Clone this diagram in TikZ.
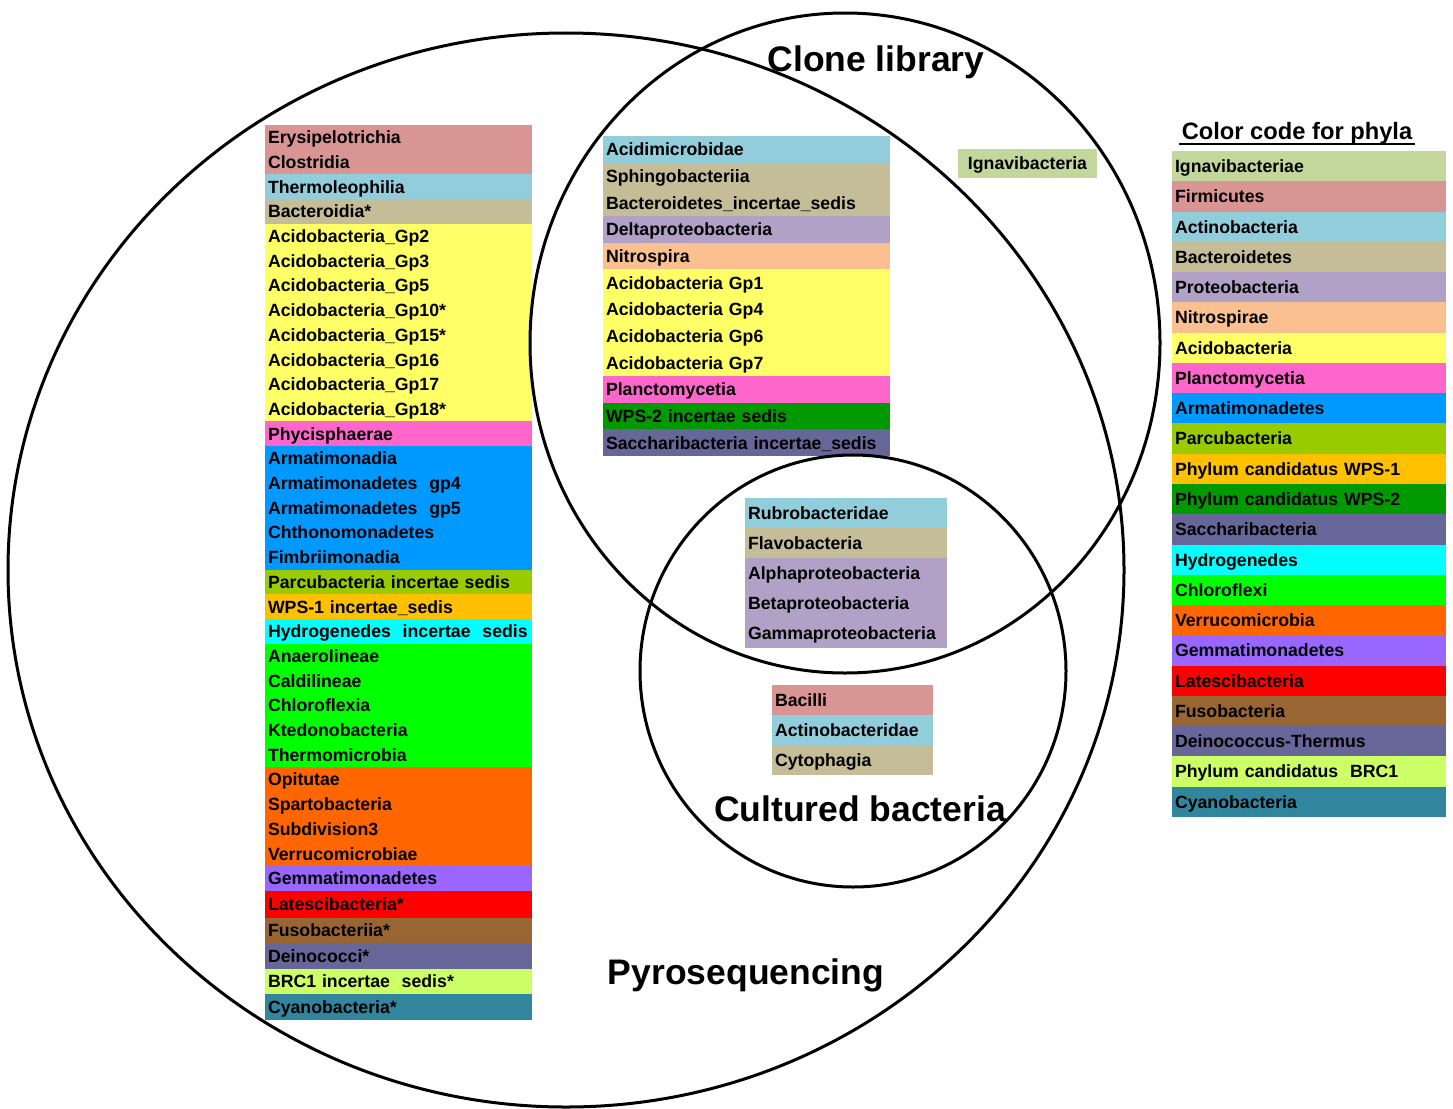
\documentclass[tikz,border=0pt]{standalone}
\usepackage{fontspec}
\setmainfont{Liberation Sans}
\usetikzlibrary{positioning}

\definecolor{ignavi}{HTML}{C3D69B}
\definecolor{firm}{HTML}{D99594}
\definecolor{actino}{HTML}{92CDDC}
\definecolor{bactero}{HTML}{C4BD97}
\definecolor{proteo}{HTML}{B2A1C7}
\definecolor{nitro}{HTML}{FAC090}
\definecolor{acido}{HTML}{FFFF66}
\definecolor{plancto}{HTML}{FF66CC}
\definecolor{armati}{HTML}{0099FF}
\definecolor{parcu}{HTML}{99CC00}
\definecolor{wpsone}{HTML}{FFC000}
\definecolor{wpstwo}{HTML}{009900}
\definecolor{saccha}{HTML}{666699}
\definecolor{hydro}{HTML}{00FFFF}
\definecolor{chloro}{HTML}{00FF00}
\definecolor{verru}{HTML}{FF6600}
\definecolor{gemma}{HTML}{9966FF}
\definecolor{latesci}{HTML}{FF0000}
\definecolor{fuso}{HTML}{996633}
\definecolor{deino}{HTML}{666699}
\definecolor{brcone}{HTML}{CCFF66}
\definecolor{cyano}{HTML}{31859C}

\begin{document}
\begin{tikzpicture}[x=1pt,y=-1pt]
      \tikzset{
        node distance=0pt,
        every node/.style={font=\bfseries\fontsize{17.7}{20}\selectfont,inner xsep=3pt,inner ysep=0pt,
          outer sep=0pt,text height=12.7pt,text depth=0pt,align=left},
        pyro/.style={text width=261pt,minimum height=24.7pt},
        pyrolow/.style={text width=261pt,minimum height=25.5pt},
        clone/.style={text width=281pt,minimum height=26.67pt},
        cult/.style={text width=196pt,minimum height=30pt},
        bacil/.style={text width=155pt,minimum height=30pt},
        leg/.style={text width=268pt,minimum height=30.27pt},
        setname/.style={font=\bfseries\fontsize{35.5}{40}\selectfont,text height=25.4pt,anchor=base}
      }
      \useasboundingbox (0,0) rectangle (1453,1108);

      % pyrosequencing only
      \node[pyro,fill=firm,anchor=north west] (py1) at (265,125) {Erysipelotrichia};
      \node[pyro,fill=firm,below=of py1] (py2) {Clostridia};
      \node[pyro,fill=actino,below=of py2] (py3) {Thermoleophilia};
      \node[pyro,fill=bactero,below=of py3] (py4) {Bacteroidia*};
      \node[pyro,fill=acido,below=of py4] (py5) {Acidobacteria\_Gp2};
      \node[pyro,fill=acido,below=of py5] (py6) {Acidobacteria\_Gp3};
      \node[pyro,fill=acido,below=of py6] (py7) {Acidobacteria\_Gp5};
      \node[pyro,fill=acido,below=of py7] (py8) {Acidobacteria\_Gp10*};
      \node[pyro,fill=acido,below=of py8] (py9) {Acidobacteria\_Gp15*};
      \node[pyro,fill=acido,below=of py9] (py10) {Acidobacteria\_Gp16};
      \node[pyro,fill=acido,below=of py10] (py11) {Acidobacteria\_Gp17};
      \node[pyro,fill=acido,below=of py11] (py12) {Acidobacteria\_Gp18*};
      \node[pyro,fill=plancto,below=of py12] (py13) {Phycisphaerae};
      \node[pyro,fill=armati,below=of py13] (py14) {Armatimonadia};
      \node[pyro,fill=armati,below=of py14] (py15) {Armatimonadetes\ \ gp4};
      \node[pyro,fill=armati,below=of py15] (py16) {Armatimonadetes\ \ gp5};
      \node[pyro,fill=armati,below=of py16] (py17) {Chthonomonadetes};
      \node[pyro,fill=armati,below=of py17] (py18) {Fimbriimonadia};
      \node[pyro,fill=parcu,below=of py18] (py19) {Parcubacteria incertae sedis};
      \node[pyro,fill=wpsone,below=of py19] (py20) {WPS-1 incertae\_sedis};
      \node[pyro,fill=hydro,below=of py20] (py21) {Hydrogenedes\ \ incertae\ \ sedis};
      \node[pyro,fill=chloro,below=of py21] (py22) {Anaerolineae};
      \node[pyro,fill=chloro,below=of py22] (py23) {Caldilineae};
      \node[pyro,fill=chloro,below=of py23] (py24) {Chloroflexia};
      \node[pyro,fill=chloro,below=of py24] (py25) {Ktedonobacteria};
      \node[pyro,fill=chloro,below=of py25] (py26) {Thermomicrobia};
      \node[pyro,fill=verru,below=of py26] (py27) {Opitutae};
      \node[pyro,fill=verru,below=of py27] (py28) {Spartobacteria};
      \node[pyro,fill=verru,below=of py28] (py29) {Subdivision3};
      \node[pyro,fill=verru,below=of py29] (py30) {Verrucomicrobiae};
      \node[pyro,fill=gemma,below=of py30] (py31) {Gemmatimonadetes};
      \node[pyrolow,fill=latesci,minimum height=27pt,below=of py31] (py32) {Latescibacteria*};
      \node[pyrolow,fill=fuso,below=of py32] (py33) {Fusobacteriia*};
      \node[pyrolow,fill=deino,below=of py33] (py34) {Deinococci*};
      \node[pyrolow,fill=brcone,below=of py34] (py35) {BRC1 incertae\ \ sedis*};
      \node[pyrolow,fill=cyano,below=of py35] (py36) {Cyanobacteria*};

      % clone library and pyrosequencing
      \node[clone,fill=actino,anchor=north west] (cl1) at (603,136) {Acidimicrobidae};
      \node[clone,fill=bactero,below=of cl1] (cl2) {Sphingobacteriia};
      \node[clone,fill=bactero,below=of cl2] (cl3) {Bacteroidetes\_incertae\_sedis};
      \node[clone,fill=proteo,below=of cl3] (cl4) {Deltaproteobacteria};
      \node[clone,fill=nitro,below=of cl4] (cl5) {Nitrospira};
      \node[clone,fill=acido,below=of cl5] (cl6) {Acidobacteria Gp1};
      \node[clone,fill=acido,below=of cl6] (cl7) {Acidobacteria Gp4};
      \node[clone,fill=acido,below=of cl7] (cl8) {Acidobacteria Gp6};
      \node[clone,fill=acido,below=of cl8] (cl9) {Acidobacteria Gp7};
      \node[clone,fill=plancto,below=of cl9] (cl10) {Planctomycetia};
      \node[clone,fill=wpstwo,below=of cl10] (cl11) {WPS-2 incertae sedis};
      \node[clone,fill=saccha,below=of cl11] (cl12) {Saccharibacteria incertae\_sedis};

      % all three
      \node[cult,fill=actino,anchor=north west] (cu1) at (745,498) {Rubrobacteridae};
      \node[cult,fill=bactero,below=of cu1] (cu2) {Flavobacteria};
      \node[cult,fill=proteo,below=of cu2] (cu3) {Alphaproteobacteria};
      \node[cult,fill=proteo,below=of cu3] (cu4) {Betaproteobacteria};
      \node[cult,fill=proteo,below=of cu4] (cu5) {Gammaproteobacteria};

      % cultured and pyrosequencing
      \node[bacil,fill=firm,anchor=north west] (ba1) at (772,685) {Bacilli};
      \node[bacil,fill=actino,below=of ba1] (ba2) {Actinobacteridae};
      \node[bacil,fill=bactero,below=of ba2] (ba3) {Cytophagia};

      % clone library only
      \node[fill=ignavi,minimum width=139pt,minimum height=29pt] (ig) at (1027.5,163.5) {Ignavibacteria};

      % color code
      \node[font=\bfseries\fontsize{23.7}{26}\selectfont,text height=17pt,anchor=base] (ctitle) at (1297,139) {Color code for phyla};
      \draw[line width=2pt] ([yshift=-4.5pt]ctitle.base west) -- ([yshift=-4.5pt]ctitle.base east);
      \node[leg,fill=ignavi,anchor=north west] (lg1) at (1172,151) {Ignavibacteriae};
      \node[leg,fill=firm,below=of lg1] (lg2) {Firmicutes};
      \node[leg,fill=actino,below=of lg2] (lg3) {Actinobacteria};
      \node[leg,fill=bactero,below=of lg3] (lg4) {Bacteroidetes};
      \node[leg,fill=proteo,below=of lg4] (lg5) {Proteobacteria};
      \node[leg,fill=nitro,below=of lg5] (lg6) {Nitrospirae};
      \node[leg,fill=acido,below=of lg6] (lg7) {Acidobacteria};
      \node[leg,fill=plancto,below=of lg7] (lg8) {Planctomycetia};
      \node[leg,fill=armati,below=of lg8] (lg9) {Armatimonadetes};
      \node[leg,fill=parcu,below=of lg9] (lg10) {Parcubacteria};
      \node[leg,fill=wpsone,below=of lg10] (lg11) {Phylum candidatus WPS-1};
      \node[leg,fill=wpstwo,below=of lg11] (lg12) {Phylum candidatus WPS-2};
      \node[leg,fill=saccha,below=of lg12] (lg13) {Saccharibacteria};
      \node[leg,fill=hydro,below=of lg13] (lg14) {Hydrogenedes};
      \node[leg,fill=chloro,below=of lg14] (lg15) {Chloroflexi};
      \node[leg,fill=verru,below=of lg15] (lg16) {Verrucomicrobia};
      \node[leg,fill=gemma,below=of lg16] (lg17) {Gemmatimonadetes};
      \node[leg,fill=latesci,below=of lg17] (lg18) {Latescibacteria};
      \node[leg,fill=fuso,below=of lg18] (lg19) {Fusobacteria};
      \node[leg,fill=deino,below=of lg19] (lg20) {Deinococcus-Thermus};
      \node[leg,fill=brcone,below=of lg20] (lg21) {Phylum candidatus\ \ BRC1};
      \node[leg,fill=cyano,below=of lg21] (lg22) {Cyanobacteria};

      % the three sets
      \draw[line width=3pt] (566,570) ellipse [x radius=558pt,y radius=537pt];
      \draw[line width=3pt] (845,343) ellipse [x radius=315pt,y radius=330pt];
      \draw[line width=3pt] (853,671) ellipse [x radius=213pt,y radius=216pt];

      \node[setname] (clonelib) at (876,71) {Clone library};
      \node[setname] (cultured) at (860,821) {Cultured bacteria};
      \node[setname] (pyroseq) at (746,984) {Pyrosequencing};
\end{tikzpicture}
\end{document}
